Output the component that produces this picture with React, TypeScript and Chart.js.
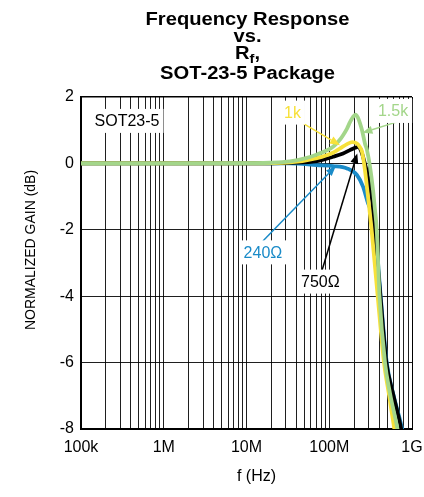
import React, { useEffect, useRef } from "react";
import { Chart, registerables } from "chart.js";

Chart.register(...registerables);

const FONT = "'Liberation Sans', Arial, Helvetica, sans-serif";

// ---- axes ----
const decadeValues = [1e5, 1e6, 1e7, 1e8, 1e9];
const decadeLabels = ["100k", "1M", "10M", "100M", "1G"];
const minorSteps = [1, 2, 3, 4, 5, 6, 7, 8, 9];
const gainMin = -8;
const gainMax = 2;
const gainStep = 2;

// ---- titles ----
const titleLine1 = "Frequency Response";
const titleLine2 = "vs.";
const titleLine3Main = "R";
const titleLine3Sub = "f";
const titleLine3Tail = ",";
const titleLine4 = "SOT-23-5 Package";
const xTitle = "f (Hz)";
const yTitle = "NORMALIZED GAIN (dB)";

// ---- series (Hz, dB) ----
const freq1k5 = [1e5, 1e6, 11e6, 19.2e6, 33.6e6, 50.9e6, 71.1e6, 111e6, 135e6, 147e6, 164e6, 178e6, 194e6, 207e6, 222e6, 236e6, 249e6, 270e6, 286e6, 311e6, 338e6, 357e6, 375e6, 405e6, 472e6, 540e6, 668e6, 700e6];
const gain1k5 = [0, 0, 0.01, 0.02, 0.06, 0.15, 0.27, 0.5, 0.72, 0.85, 1.05, 1.24, 1.4, 1.47, 1.38, 1.2, 1.0, 0.6, 0.4, -0.1, -0.8, -1.4, -2.0, -4.0, -6.0, -6.9, -8.0, -8.3];

const freq1k = [1e5, 1e6, 11e6, 33.6e6, 71.1e6, 111e6, 135e6, 164e6, 190e6, 216e6, 236e6, 249e6, 270e6, 294e6, 325e6, 385e6, 459e6, 530e6, 612e6, 640e6];
const gain1k = [0, 0, 0, 0.03, 0.16, 0.32, 0.45, 0.58, 0.64, 0.6, 0.48, 0.35, -0.2, -1.0, -2.0, -4.0, -6.0, -7.0, -8.0, -8.3];

const freq750 = [1e5, 1e6, 11e6, 33.6e6, 71.1e6, 111e6, 147e6, 178e6, 205e6, 222e6, 236e6, 256e6, 294e6, 329e6, 355e6, 415e6, 490e6, 585e6, 740e6, 775e6];
const gain750 = [0, 0, 0, 0.02, 0.07, 0.2, 0.3, 0.4, 0.47, 0.5, 0.45, 0.2, -0.4, -1.1, -2.0, -4.0, -6.0, -6.9, -8.0, -8.3];

const freq240 = [1e5, 1e6, 11e6, 33.6e6, 71.1e6, 111e6, 164e6, 216e6, 256e6, 294e6, 338e6, 365e6, 418e6, 495e6, 600e6, 760e6, 800e6];
const gain240 = [0, 0, 0, 0, -0.05, -0.08, -0.15, -0.35, -0.7, -1.2, -1.6, -2.2, -4.0, -6.0, -7.0, -8.0, -8.3];

const GREEN = "#a3d68a";
const YELLOW = "#f7e13a";
const BLACK = "#000000";
const BLUE = "#1a8bc8";

// ---- annotations (data coordinates) ----
type Note = { text: string; color: string; x: number; y: number; from?: [number, number]; to?: [number, number] };
const notes: Note[] = [
  { text: "SOT23-5", color: BLACK, x: 3.6e5, y: 1.28 },
  { text: "1k", color: YELLOW, x: 36e6, y: 1.53, from: [45e6, 1.25], to: [135e6, 0.55] },
  { text: "1.5k", color: GREEN, x: 590e6, y: 1.58, from: [660e6, 1.25], to: [252e6, 0.92] },
  { text: "240\u03A9", color: BLUE, x: 15.8e6, y: -2.68, from: [15.8e6, -2.34], to: [120e6, -0.08] },
  { text: "750\u03A9", color: BLACK, x: 78e6, y: -3.56, from: [82e6, -3.21], to: [218e6, 0.3] },
];

const xTickValues = [
  ...decadeValues.slice(0, -1).flatMap((d) => minorSteps.map((m) => d * m)),
  decadeValues[decadeValues.length - 1],
];

function labelFor(v: number): string {
  const i = decadeValues.findIndex((d) => Math.abs(d - v) / d < 1e-6);
  return i >= 0 ? decadeLabels[i] : "";
}

function pts(f: number[], g: number[]) {
  return f.map((x, i) => ({ x, y: g[i] }));
}

function drawArrow(ctx: CanvasRenderingContext2D, x1: number, y1: number, x2: number, y2: number, color: string) {
  const ang = Math.atan2(y2 - y1, x2 - x1);
  const len = 10;
  const hw = 4;
  const bx = x2 - len * Math.cos(ang);
  const by = y2 - len * Math.sin(ang);
  ctx.strokeStyle = color;
  ctx.fillStyle = color;
  ctx.lineWidth = 1.5;
  ctx.beginPath();
  ctx.moveTo(x1, y1);
  ctx.lineTo(bx, by);
  ctx.stroke();
  ctx.beginPath();
  ctx.moveTo(x2, y2);
  ctx.lineTo(bx + hw * Math.sin(ang), by - hw * Math.cos(ang));
  ctx.lineTo(bx - hw * Math.sin(ang), by + hw * Math.cos(ang));
  ctx.closePath();
  ctx.fill();
}

const overlayPlugin = {
  id: "overlay",
  afterDatasetsDraw(chart: any) {
    const { ctx } = chart;
    const xs = chart.scales.x;
    const ys = chart.scales.y;
    ctx.save();
    for (const n of notes) {
      if (n.from && n.to) {
        drawArrow(
          ctx,
          xs.getPixelForValue(n.from[0]),
          ys.getPixelForValue(n.from[1]),
          xs.getPixelForValue(n.to[0]),
          ys.getPixelForValue(n.to[1]),
          n.color
        );
      }
    }
    ctx.font = `16px ${FONT}`;
    ctx.textAlign = "center";
    ctx.textBaseline = "middle";
    for (const n of notes) {
      const px = xs.getPixelForValue(n.x);
      const py = ys.getPixelForValue(n.y);
      const w = ctx.measureText(n.text).width;
      ctx.fillStyle = "#ffffff";
      ctx.fillRect(px - w / 2 - 4, py - 12, w + 8, 24);
      ctx.fillStyle = n.color;
      ctx.fillText(n.text, px, py + 1);
    }
    ctx.restore();
  },
  afterDraw(chart: any) {
    const { ctx, chartArea } = chart;
    const cx = (chartArea.left + chartArea.right) / 2 + 1;
    ctx.save();
    ctx.fillStyle = "#000";
    ctx.textBaseline = "alphabetic";
    const big = `bold 18px ${FONT}`;
    const small = `bold 13px ${FONT}`;
    const sx = 1.12;
    const line = (text: string, y: number) => {
      ctx.save();
      ctx.translate(cx, y);
      ctx.scale(sx, 1);
      ctx.font = big;
      ctx.textAlign = "center";
      ctx.fillText(text, 0, 0);
      ctx.restore();
    };
    line(titleLine1, 25);
    line(titleLine2, 42);
    // R_f,
    ctx.save();
    ctx.translate(cx, 59);
    ctx.scale(sx, 1);
    ctx.textAlign = "left";
    ctx.font = big;
    const wR = ctx.measureText(titleLine3Main).width;
    const wT = ctx.measureText(titleLine3Tail).width;
    ctx.font = small;
    const wS = ctx.measureText(titleLine3Sub).width;
    const start = -(wR + wS + wT) / 2;
    ctx.font = big;
    ctx.fillText(titleLine3Main, start, 0);
    ctx.font = small;
    ctx.fillText(titleLine3Sub, start + wR, 4);
    ctx.font = big;
    ctx.fillText(titleLine3Tail, start + wR + wS, 0);
    ctx.restore();
    line(titleLine4, 79);

    // axis titles
    ctx.font = `16px ${FONT}`;
    ctx.textAlign = "center";
    ctx.textBaseline = "middle";
    ctx.fillText(xTitle, cx + 9, 477);
    ctx.save();
    ctx.translate(31, 250);
    ctx.rotate(-Math.PI / 2);
    ctx.font = `14px ${FONT}`;
    ctx.fillText(yTitle, 0, 0);
    ctx.restore();
    ctx.restore();
  },
};

export default function App() {
  const ref = useRef<HTMLCanvasElement | null>(null);
  useEffect(() => {
    if (!ref.current) return;
    const mk = (label: string, f: number[], g: number[], color: string) => ({
      label,
      data: pts(f, g),
      borderColor: color,
      backgroundColor: color,
      borderWidth: 3.8,
      pointRadius: 0,
      fill: false,
      tension: 0.4,
      cubicInterpolationMode: "monotone" as const,
      borderJoinStyle: "round" as const,
      borderCapStyle: "round" as const,
    });
    const GRID = "rgba(0,0,0,0.88)";
    const chart = new Chart(ref.current, {
      type: "line",
      data: {
        datasets: [
          mk("1.5k", freq1k5, gain1k5, GREEN),
          mk("1k", freq1k, gain1k, YELLOW),
          mk("750\u03A9", freq750, gain750, BLACK),
          mk("240\u03A9", freq240, gain240, BLUE),
        ],
      },
      options: {
        responsive: false,
        animation: false,
        layout: { padding: { top: 97, right: 12, bottom: 0, left: 0 } },
        plugins: {
          legend: { display: false },
          tooltip: { enabled: false },
          title: { display: false },
        },
        scales: {
          x: {
            type: "logarithmic",
            min: decadeValues[0],
            max: decadeValues[decadeValues.length - 1],
            afterBuildTicks: (scale: any) => {
              scale.ticks = xTickValues.map((v) => ({ value: v }));
            },
            afterFit: (scale: any) => {
              scale.height = 68;
              scale.paddingLeft = 0;
              scale.paddingRight = 0;
            },
            ticks: {
              autoSkip: false,
              maxRotation: 0,
              minRotation: 0,
              padding: 9,
              color: "#000",
              font: { size: 16, family: FONT },
              callback: (v: any) => labelFor(Number(v)),
            },
            grid: {
              drawTicks: false,
              lineWidth: 1,
              color: (c: any) => (c.tick && c.tick.value === decadeValues[decadeValues.length - 1] ? "#000" : GRID),
            },
            border: { color: "#000", width: 2 },
          },
          y: {
            type: "linear",
            min: gainMin,
            max: gainMax,
            afterFit: (scale: any) => {
              scale.width = 81;
              scale.paddingTop = 0;
              scale.paddingBottom = 0;
            },
            ticks: {
              stepSize: gainStep,
              padding: 7,
              color: "#000",
              font: { size: 16, family: FONT },
            },
            grid: {
              drawTicks: false,
              lineWidth: (c: any) => (c.tick && c.tick.value === gainMax ? 1.5 : 1),
              color: (c: any) => (c.tick && c.tick.value === gainMax ? "#000" : GRID),
            },
            border: { color: "#000", width: 2 },
          },
        },
      },
      plugins: [overlayPlugin],
    });
    return () => chart.destroy();
  }, []);
  return (
    <div style={{ position: "absolute", left: 0, top: 0, width: 424, height: 497, background: "#fff" }}>
      <canvas ref={ref} width={424} height={497} style={{ width: 424, height: 497, display: "block" }} />
    </div>
  );
}
